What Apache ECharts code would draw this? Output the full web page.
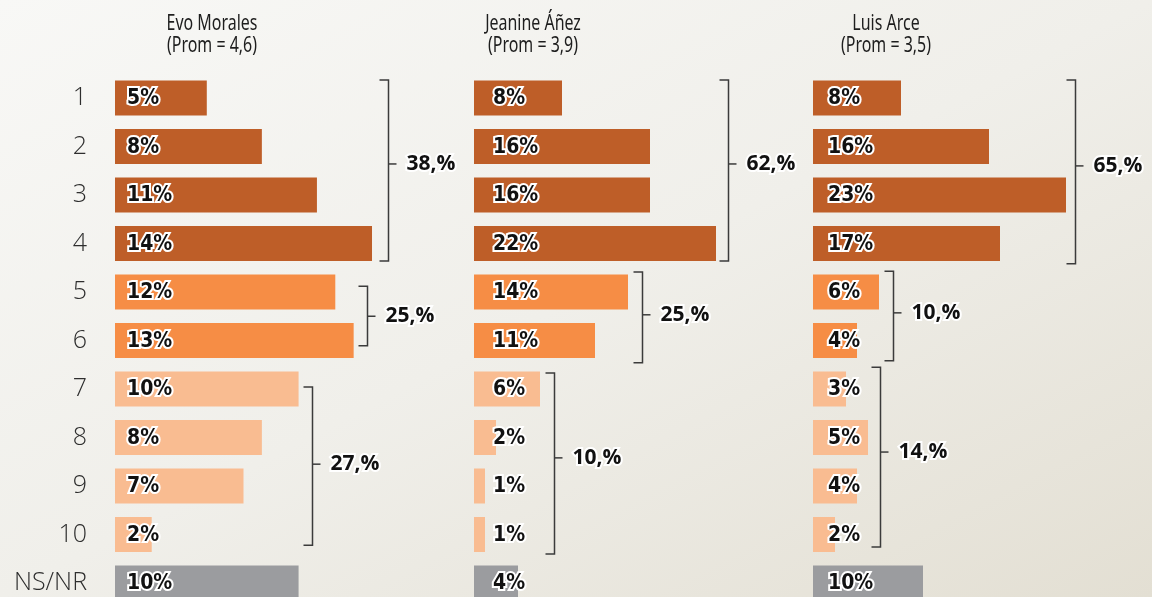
<!DOCTYPE html>
<html>
<head>
<meta charset="utf-8">
<script src="https://cdn.jsdelivr.net/npm/echarts@6/dist/echarts.min.js"></script>
<style>
  html, body { margin: 0; padding: 0; overflow: hidden; }
  body { background: linear-gradient(to bottom right, #f8f8f6 0%, #f0efea 50%, #e3dfd3 100%); height: 597px; }
  #chart { width: 1152px; height: 620px; }
</style>
</head>
<body>
<div id="chart"></div>
<script>
// categorias (respuestas 1-10 + NS/NR)
const categories = ['1', '2', '3', '4', '5', '6', '7', '8', '9', '10', 'NS/NR'];

const candidates = ['Evo Morales', 'Jeanine Áñez', 'Luis Arce'];
const proms = ['4,6', '3,9', '3,5'];

// porcentajes por candidato
const evoValues = [5, 8, 11, 14, 12, 13, 10, 8, 7, 2, 10];
const anezValues = [8, 16, 16, 22, 14, 11, 6, 2, 1, 1, 4];
const arceValues = [8, 16, 23, 17, 6, 4, 3, 5, 4, 2, 10];

// totales agrupados (1-4, 5-6, 7-10)
const evoGroups = ['38,%', '25,%', '27,%'];
const anezGroups = ['62,%', '25,%', '10,%'];
const arceGroups = ['65,%', '10,%', '14,%'];

// llaves: [x (%), fila arriba, fila abajo, fila etiqueta]
const evoBrackets = [[14.87, -0.37, 3.36, 1.36], [13.73, 3.88, 5.11, 4.5], [10.73, 5.96, 9.22, 7.55]];
const anezBrackets = [[23.09, -0.37, 3.36, 1.36], [15.27, 3.59, 5.46, 4.47], [7.27, 5.67, 9.4, 7.42]];
const arceBrackets = [[23.82, -0.37, 3.42, 1.4], [7.27, 3.57, 5.42, 4.43], [6.09, 5.55, 9.26, 7.3]];

const bandColors = ['#be5e28', '#be5e28', '#be5e28', '#be5e28', '#f68d45', '#f68d45',
  '#f9bc91', '#f9bc91', '#f9bc91', '#f9bc91', '#9b9c9f'];

const panels = [
  { values: evoValues, groups: evoGroups, brackets: evoBrackets, left: 115, max: 19, width: 348.8, labelX: 12, titleX: 212 },
  { values: anezValues, groups: anezGroups, brackets: anezBrackets, left: 474, max: 30, width: 330, labelX: 19, titleX: 533 },
  { values: arceValues, groups: arceGroups, brackets: arceBrackets, left: 813, max: 30, width: 330, labelX: 15, titleX: 886 }
];

const chart = echarts.init(document.getElementById('chart'));

const grid = [], xAxis = [], yAxis = [], series = [], graphic = [];

panels.forEach((p, i) => {
  grid.push({ left: p.left, top: 73.75, width: p.width, height: 533.5 });
  xAxis.push({ gridIndex: i, type: 'value', min: 0, max: p.max, show: false });
  yAxis.push({
    gridIndex: i, type: 'category', data: categories, inverse: true,
    axisLine: { show: false }, axisTick: { show: false }, splitLine: { show: false },
    axisLabel: {
      show: i === 0, margin: 28, fontSize: 25, color: '#2e2e2e',
      fontFamily: '"Open Sans", sans-serif', fontWeight: 300
    }
  });
  yAxis.push({ gridIndex: i, type: 'value', min: -0.5, max: 10.5, inverse: true, show: false });

  series.push({
    type: 'bar',
    xAxisIndex: i,
    yAxisIndex: i * 2,
    barWidth: 35,
    data: p.values.map((v, k) => ({ value: v, itemStyle: { color: bandColors[k] } })),
    label: {
      show: true,
      position: [p.labelX, '50%'],
      offset: [0, 1],
      align: 'left',
      verticalAlign: 'middle',
      formatter: '{c}%',
      fontFamily: '"DejaVu Sans Condensed", "DejaVu Sans", sans-serif',
      fontWeight: 'bold',
      fontSize: 21,
      color: '#111',
      textBorderColor: '#fff',
      textBorderWidth: 4
    },
    silent: true
  });

  series.push({
    type: 'custom',
    xAxisIndex: i,
    yAxisIndex: i * 2 + 1,
    data: p.brackets,
    silent: true,
    renderItem: function (params, api) {
      const top = api.coord([api.value(0), api.value(1)]);
      const bottom = api.coord([api.value(0), api.value(2)]);
      const mid = api.coord([api.value(0), api.value(3)]);
      const x = Math.round(top[0]) + 0.5;
      const lineStyle = { stroke: '#3b3b3b', lineWidth: 1.5, fill: null };
      return {
        type: 'group',
        children: [
          { type: 'polyline', shape: { points: [[x - 9, top[1]], [x, top[1]], [x, bottom[1]], [x - 9, bottom[1]]] }, style: lineStyle },
          { type: 'line', shape: { x1: x, y1: mid[1], x2: x + 8, y2: mid[1] }, style: lineStyle },
          {
            type: 'text', x: x + 18, y: mid[1],
            style: {
              text: p.groups[params.dataIndex],
              fill: '#111', stroke: '#fff', lineWidth: 4,
              fontFamily: '"Open Sans", sans-serif', fontWeight: 'bold', fontSize: 21,
              align: 'left', verticalAlign: 'middle'
            }
          }
        ]
      };
    }
  });

  graphic.push({
    type: 'text',
    x: p.titleX,
    y: 13,
    scaleX: 0.76,
    style: {
      text: candidates[i] + '\n(Prom = ' + proms[i] + ')',
      fill: '#1e1e1e',
      fontFamily: '"Noto Sans", sans-serif',
      fontSize: 21,
      lineHeight: 22,
      align: 'center',
      verticalAlign: 'top'
    }
  });
});

chart.setOption({
  backgroundColor: 'transparent',
  animation: false,
  grid: grid,
  xAxis: xAxis,
  yAxis: yAxis,
  series: series,
  graphic: graphic
});
</script>
</body>
</html>
